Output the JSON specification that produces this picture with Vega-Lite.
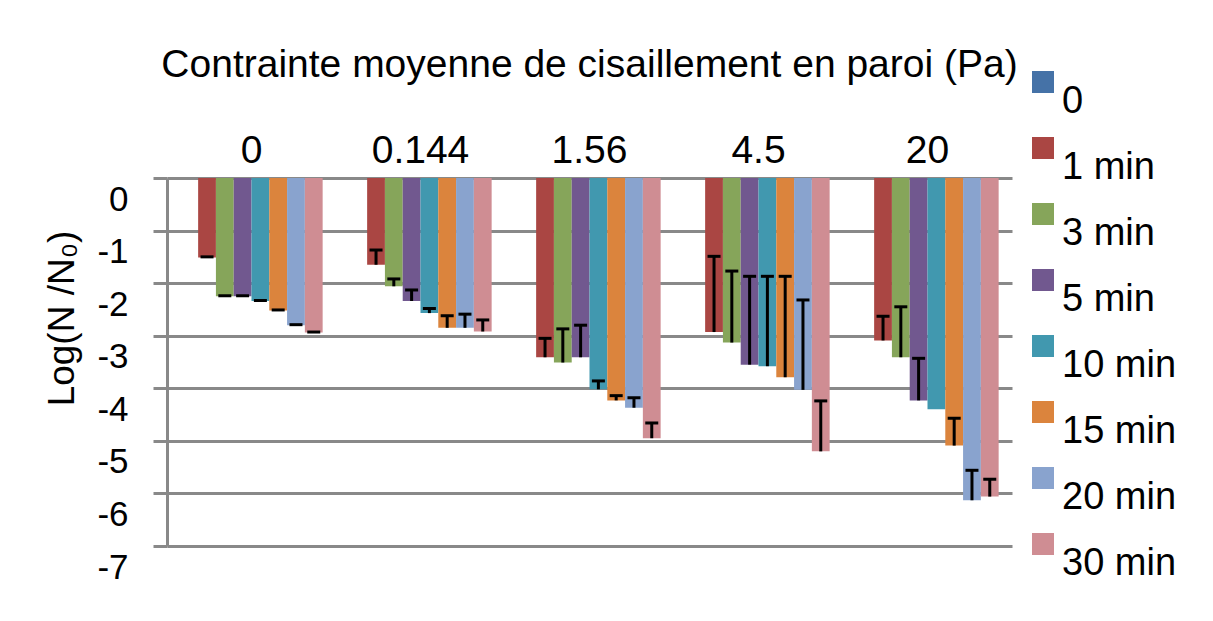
{
  "$schema": "https://vega.github.io/schema/vega-lite/v6.json",
  "width": 845,
  "height": 368,
  "autosize": {"type": "none"},
  "padding": {"left": 167, "top": 178, "right": 201, "bottom": 75},
  "background": "white",
  "config": {
    "font": "Liberation Sans",
    "view": {"stroke": null},
    "axis": {"labelColor": "black", "titleColor": "black", "titleFontWeight": "normal"}
  },
  "title": {
    "text": "Contrainte moyenne de cisaillement en paroi (Pa)",
    "fontSize": 39,
    "fontWeight": "normal",
    "color": "black",
    "anchor": "middle",
    "offset": -22
  },
  "data": {
    "values": [
      {"pa": "0", "t": "0", "v": 0, "cap": null},
      {"pa": "0", "t": "1 min", "v": -1.51, "cap": -1.5},
      {"pa": "0", "t": "3 min", "v": -2.25, "cap": -2.24},
      {"pa": "0", "t": "5 min", "v": -2.25, "cap": -2.24},
      {"pa": "0", "t": "10 min", "v": -2.34, "cap": -2.33},
      {"pa": "0", "t": "15 min", "v": -2.52, "cap": -2.51},
      {"pa": "0", "t": "20 min", "v": -2.8, "cap": -2.79},
      {"pa": "0", "t": "30 min", "v": -2.94, "cap": -2.93},
      {"pa": "0.144", "t": "0", "v": 0, "cap": null},
      {"pa": "0.144", "t": "1 min", "v": -1.65, "cap": -1.37},
      {"pa": "0.144", "t": "3 min", "v": -2.06, "cap": -1.92},
      {"pa": "0.144", "t": "5 min", "v": -2.34, "cap": -2.13},
      {"pa": "0.144", "t": "10 min", "v": -2.57, "cap": -2.48},
      {"pa": "0.144", "t": "15 min", "v": -2.85, "cap": -2.62},
      {"pa": "0.144", "t": "20 min", "v": -2.85, "cap": -2.59},
      {"pa": "0.144", "t": "30 min", "v": -2.92, "cap": -2.7},
      {"pa": "1.56", "t": "0", "v": 0, "cap": null},
      {"pa": "1.56", "t": "1 min", "v": -3.41, "cap": -3.05},
      {"pa": "1.56", "t": "3 min", "v": -3.51, "cap": -2.87},
      {"pa": "1.56", "t": "5 min", "v": -3.41, "cap": -2.8},
      {"pa": "1.56", "t": "10 min", "v": -4.02, "cap": -3.86},
      {"pa": "1.56", "t": "15 min", "v": -4.23, "cap": -4.14},
      {"pa": "1.56", "t": "20 min", "v": -4.37, "cap": -4.18},
      {"pa": "1.56", "t": "30 min", "v": -4.95, "cap": -4.66},
      {"pa": "4.5", "t": "0", "v": 0, "cap": null},
      {"pa": "4.5", "t": "1 min", "v": -2.93, "cap": -1.49},
      {"pa": "4.5", "t": "3 min", "v": -3.13, "cap": -1.77},
      {"pa": "4.5", "t": "5 min", "v": -3.55, "cap": -1.87},
      {"pa": "4.5", "t": "10 min", "v": -3.58, "cap": -1.87},
      {"pa": "4.5", "t": "15 min", "v": -3.79, "cap": -1.87},
      {"pa": "4.5", "t": "20 min", "v": -4.03, "cap": -2.32},
      {"pa": "4.5", "t": "30 min", "v": -5.2, "cap": -4.24},
      {"pa": "20", "t": "0", "v": 0, "cap": null},
      {"pa": "20", "t": "1 min", "v": -3.09, "cap": -2.63},
      {"pa": "20", "t": "3 min", "v": -3.41, "cap": -2.45},
      {"pa": "20", "t": "5 min", "v": -4.23, "cap": -3.43},
      {"pa": "20", "t": "10 min", "v": -4.4, "cap": null},
      {"pa": "20", "t": "15 min", "v": -5.09, "cap": -4.57},
      {"pa": "20", "t": "20 min", "v": -6.13, "cap": -5.56},
      {"pa": "20", "t": "30 min", "v": -6.06, "cap": -5.73}
    ]
  },
  "encoding": {
    "x": {
      "field": "pa",
      "type": "nominal",
      "sort": ["0", "0.144", "1.56", "4.5", "20"],
      "scale": {"paddingInner": 0.158, "paddingOuter": 0.079},
      "axis": {
        "orient": "top",
        "title": null,
        "domain": false,
        "ticks": false,
        "labelAngle": 0,
        "labelFontSize": 39,
        "labelPadding": 8
      }
    },
    "xOffset": {
      "field": "t",
      "type": "nominal",
      "sort": ["0", "1 min", "3 min", "5 min", "10 min", "15 min", "20 min", "30 min"],
      "scale": {"paddingInner": 0, "paddingOuter": 0}
    },
    "y": {
      "field": "v",
      "type": "quantitative",
      "scale": {"domain": [-7, 0], "nice": false},
      "axis": {
        "title": "Log(N /N₀)",
        "titleFontSize": 37,
        "titleX": -105,
        "titleY": 140,
        "titleAngle": 270,
        "titleBaseline": "middle",
        "titleAlign": "center",
        "values": [0, -1, -2, -3, -4, -5, -6, -7],
        "labelExpr": "datum.value == 0 ? '0' : '-' + abs(datum.value)",
        "labelFontSize": 35,
        "labelOffset": 21,
        "labelPadding": 25,
        "tickSize": 14,
        "tickWidth": 3,
        "tickColor": "#898989",
        "domainColor": "#898989",
        "domainWidth": 3,
        "grid": true,
        "gridColor": "#898989",
        "gridWidth": 3
      }
    }
  },
  "layer": [
    {
      "mark": {"type": "bar", "strokeWidth": 0},
      "encoding": {
        "color": {
          "field": "t",
          "type": "nominal",
          "sort": ["0", "1 min", "3 min", "5 min", "10 min", "15 min", "20 min", "30 min"],
          "scale": {
            "domain": ["0", "1 min", "3 min", "5 min", "10 min", "15 min", "20 min", "30 min"],
            "range": ["#4572A7", "#AA4643", "#86A55A", "#71588F", "#4198AF", "#DB843D", "#89A3CE", "#CF8D93"]
          },
          "legend": {
            "title": null,
            "orient": "none",
            "legendX": 857,
            "legendY": -115,
            "symbolType": "square",
            "symbolSize": 484,
            "symbolStrokeWidth": 0,
            "labelFontSize": 38,
            "labelColor": "black",
            "labelBaseline": "line-top",
            "labelLineHeight": 48,
            "labelOffset": 0,
            "rowPadding": 8
          }
        }
      }
    },
    {
      "transform": [{"filter": "datum.cap != null"}],
      "mark": {"type": "rule", "color": "black", "strokeWidth": 3},
      "encoding": {"y2": {"field": "cap"}}
    },
    {
      "transform": [{"filter": "datum.cap != null"}],
      "mark": {"type": "tick", "color": "black", "thickness": 3, "size": 13, "opacity": 1},
      "encoding": {"y": {"field": "cap", "type": "quantitative"}}
    }
  ]
}
